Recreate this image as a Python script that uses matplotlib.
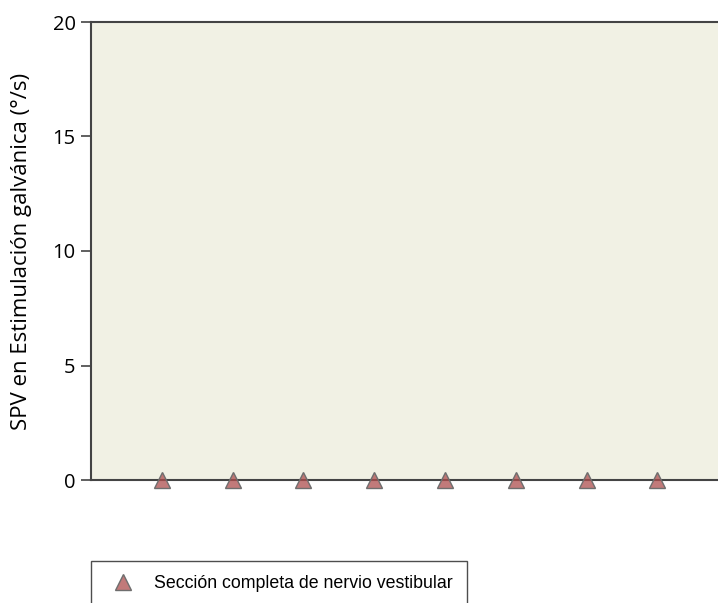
import numpy as np
import matplotlib.pyplot as plt

# patients (x) and SPV under galvanic stimulation (y)
pacientes = [1, 2, 3, 4, 5, 6, 7, 8]
spv = [0, 0, 0, 0, 0, 0, 0, 0]
etiqueta = "Sección completa de nervio vestibular"

fig = plt.figure(figsize=(7.18, 6.03), dpi=100)
ax = fig.add_axes([91 / 718, 123 / 603, 1 - 91 / 718, 458 / 603])
ax.set_facecolor("#f1f1e4")

ax.plot(pacientes, spv, linestyle="none", marker="^", markersize=11,
        markerfacecolor=(0.68, 0.3, 0.3, 0.75), markeredgecolor="#6e6e6e",
        markeredgewidth=1, clip_on=False, label=etiqueta, zorder=5)

ax.set_xlim(0, (718 - 91) / 70.8)
ax.set_ylim(0, 20)
ax.set_yticks([0, 5, 10, 15, 20])
ax.set_xticks([])
for s in ["left", "bottom", "top"]:
    ax.spines[s].set_color("#444444")
    ax.spines[s].set_linewidth(1.5)
ax.spines["right"].set_visible(False)
ax.tick_params(axis="y", length=7, width=1.2, color="#444444", labelsize=14.5, pad=4)
for lab in ax.get_yticklabels():
    lab.set_fontfamily("Open Sans")
ax.set_ylabel("SPV en Estimulación galvánica (°/s)", fontsize=16,
              fontfamily="Open Sans", labelpad=15)

leg = fig.legend(loc="upper left", bbox_to_anchor=(91 / 718, 42 / 603),
                 frameon=True, fancybox=False, borderpad=0.8, handletextpad=0.75,
                 borderaxespad=0, prop={"family": "Liberation Sans", "size": 12.8})
leg.get_frame().set_edgecolor("#222222")
leg.get_frame().set_linewidth(1.0)

fig.savefig("out.png", dpi=100)
